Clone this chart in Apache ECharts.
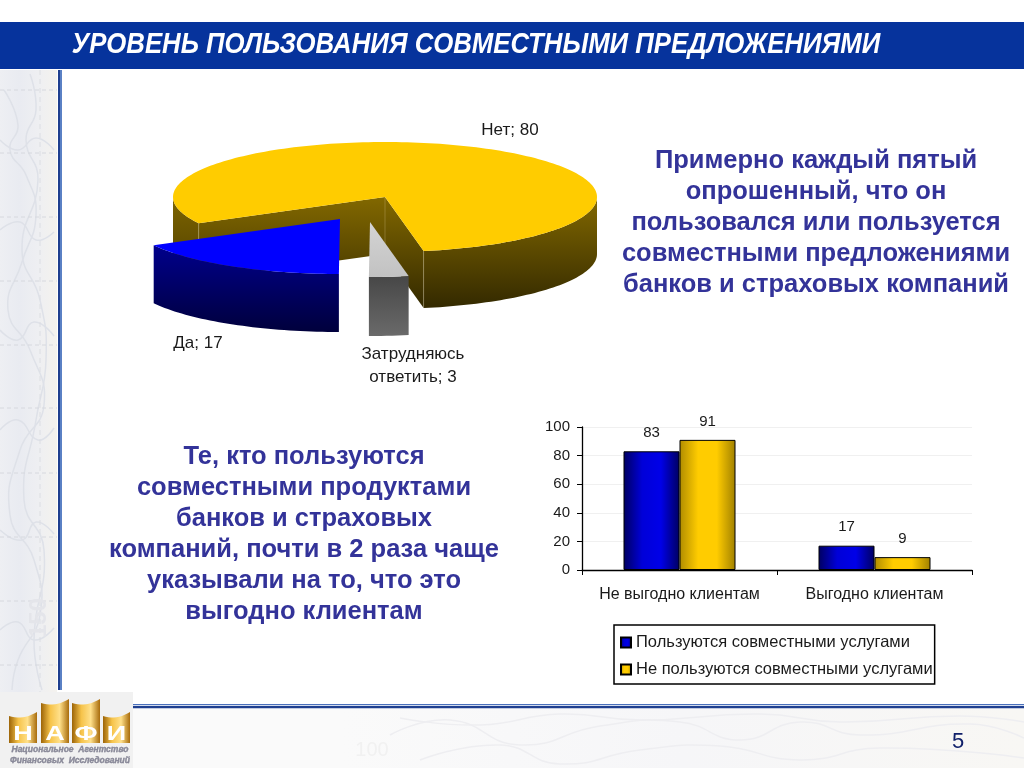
<!DOCTYPE html>
<html><head><meta charset="utf-8">
<style>html,body{margin:0;padding:0;background:#fff}#c{width:1024px;height:768px}</style>
<script src="https://cdn.jsdelivr.net/npm/echarts@6/dist/echarts.min.js"></script>
</head><body><div id="c"></div>
<script>
const pieCategories = ['Нет', 'Затрудняюсь\nответить', 'Да'];
const pieValues = [80, 3, 17];
const barCategories = ['Не выгодно клиентам', 'Выгодно клиентам'];
const seriesUsersName = 'Пользуются совместными услугами';
const seriesNonUsersName = 'Не пользуются совместными услугами';
const usersValues = [83, 17];
const nonUsersValues = [91, 9];
const titleText = 'УРОВЕНЬ ПОЛЬЗОВАНИЯ СОВМЕСТНЫМИ ПРЕДЛОЖЕНИЯМИ';
const noteRight = 'Примерно каждый пятый\nопрошенный, что он\nпользовался или пользуется\nсовместными предложениями\nбанков и страховых компаний';
const noteLeft = 'Те, кто пользуются\nсовместными продуктами\nбанков и страховых\nкомпаний, почти в 2 раза чаще\nуказывали на то, что это\nвыгодно клиентам';

const FONT = '"Liberation Sans", Arial, sans-serif';
const LG = (x0,y0,x1,y1,stops) => new echarts.graphic.LinearGradient(x0,y0,x1,y1,stops.map((c,i)=>({offset:i/(stops.length-1),color:c})));

/* 3-D pie layout */
const PIE = {cx:385, cy:197, rx:212, ry:55, startDeg:151.5};
const sliceLayout = [
  {dx:0,   dy:0,  h:57, top:'#ffcc00', side:['#826800','#332900']},
  {dx:-15, dy:25, h:59, top:LG(0,0,0,1,['#d4d4d4','#c2c2c2']), side:['#474747','#6a6a6a']},
  {dx:-45, dy:22, h:58, top:'#0000ff', side:['#00008c','#00003c']}
];
const labelLayout = [
  {x:510, y:130},
  {x:413, y:366},
  {x:198, y:343}
];
function pt(s,deg){const t=deg*Math.PI/180;return [PIE.cx+s.dx+PIE.rx*Math.cos(t), PIE.cy+s.dy+PIE.ry*Math.sin(t)];}
function renderSlice(params, api){
  const i = params.dataIndex;
  const total = pieValues.reduce((a,b)=>a+b,0);
  let start = PIE.startDeg;
  for(let k=0;k<i;k++) start += pieValues[k]/total*360;
  const end = start + pieValues[i]/total*360;
  const s = sliceLayout[i];
  const apex=[PIE.cx+s.dx, PIE.cy+s.dy];
  const children=[];
  const sideFill = LG(0,0,0,1,s.side);
  const wall=(a,b)=>{
    const up=[],dn=[];
    for(let d=a;d<b;d+=1.5){const p=pt(s,d);up.push(p);dn.unshift([p[0],p[1]+s.h]);}
    const last=pt(s,b);up.push(last);dn.unshift([last[0],last[1]+s.h]);
    return up.concat(dn);
  };
  const topPts=[apex];
  for(let d=start;d<end;d+=1.5) topPts.push(pt(s,d));
  topPts.push(pt(s,end));
  if(i===0){
    const pa=pt(s,start), pb=pt(s,end);
    const face=(p,q)=>[p,q,[q[0],q[1]+s.h],[p[0],p[1]+s.h]];
    children.push({type:'polygon',shape:{points:wall(start,180)},style:{fill:LG(0,0,0,1,['#7d6400','#4f3f00'])}});
    children.push({type:'polygon',shape:{points:face(pa,apex)},style:{fill:LG(0,0,0,1,['#826800','#4a3b00'])}});
    children.push({type:'polygon',shape:{points:face(apex,pb)},style:{fill:LG(0,0,0,1,['#826800','#332900'])}});
    children.push({type:'polygon',shape:{points:wall(360,end)},style:{fill:sideFill}});
    [pa,apex,pb].forEach(p=>children.push({type:'line',shape:{x1:p[0],y1:p[1],x2:p[0],y2:p[1]+s.h},style:{stroke:'rgba(255,240,190,0.22)',lineWidth:1}}));
  } else {
    children.push({type:'polygon',shape:{points:wall(start,end)},style:{fill:sideFill}});
  }
  children.push({type:'polygon',shape:{points:topPts},style:{fill:s.top}});
  const L=labelLayout[i];
  children.push({type:'text',x:L.x,y:L.y,
    style:{text:pieCategories[i]+'; '+api.value(0),x:0,y:0,textAlign:'center',textVerticalAlign:'middle',
      font:'17px '+FONT,lineHeight:23,fill:'#1a1a1a'}});
  return {type:'group',children};
}

const blueBar = LG(0,0,1,0,['#000060','#0000d8','#0000e8','#000060']);
const goldBar = LG(0,0,1,0,['#b08c00','#ffcc00','#ffcc00','#a08000']);

/* backdrop decoration */
const contours = [
 [[4,90],[18,125],[10,150],[26,175],[36,215],[22,262],[8,310],[30,350],[44,405],[20,450],[10,515],[34,560],[40,615],[18,660],[12,690]],
 [[30,74],[36,110],[26,140],[38,180],[22,250],[40,300],[46,360],[36,420],[24,500],[44,550],[34,640],[42,690]],
 [[0,140],[18,150],[36,138],[54,150]],[[0,230],[20,222],[36,240],[54,232]],[[0,330],[18,340],[34,322],[54,336]],
 [[0,430],[18,420],[38,440],[54,428]],[[0,530],[22,540],[36,522],[54,534]],[[0,630],[18,622],[34,640],[54,628]]
];
const dashRows = [90,153,217,281,345,408,473,537,601,665];
const bottomContours = [
 [[390,735],[450,720],[520,745],[600,726],[680,722],[740,740],[800,722],[860,735],[970,724],[1024,738]],
 [[420,760],[500,745],[560,764],[640,750],[720,746],[800,760],[880,748],[1024,758]],
 [[400,718],[480,725],[560,714],[640,720],[760,714],[840,722],[960,716],[1024,722]]
];
function logoPoly(x,w,top,bottom){
  const pts=[];
  for(let k=0;k<=10;k++){const u=k/10;pts.push([x+w*u, top+4-(4*u)+8*u*(1-u)*1.6]);}
  pts.push([x+w,bottom],[x,bottom]);
  return pts;
}
const logoBars = [
 {x:9,  w:28, top:712, letter:'Н'},
 {x:41, w:28, top:699, letter:'А'},
 {x:72, w:28, top:699, letter:'Ф'},
 {x:103,w:27, top:712, letter:'И'}
];
const g = [];
const T = (text,x,y,o)=>({type:'text',x,y,z:4,silent:true,style:Object.assign({text,textAlign:'center',textVerticalAlign:'middle',fill:'#333399'},o)});
g.push({type:'rect',shape:{x:0,y:70,width:57,height:622},style:{fill:LG(0,0,1,0,['#eeeff3','#e9ebf1','#eeeff2','#f4f2ee'])},z:0});
contours.forEach(p=>g.push({type:'polyline',shape:{points:p,smooth:0.5},style:{fill:null,stroke:'#dee1e8',lineWidth:1.5},z:1}));
dashRows.forEach(y=>g.push({type:'line',shape:{x1:0,y1:y,x2:57,y2:y},style:{stroke:'#d6d8de',lineWidth:1,lineDash:[4,3]},z:1}));
g.push({type:'line',shape:{x1:40,y1:70,x2:40,y2:692},style:{stroke:'#dcdee3',lineWidth:1,lineDash:[5,4]},z:1});
g.push({type:'rect',shape:{x:0,y:708,width:1024,height:60},style:{fill:LG(0,0,1,0,['#fafafa','#fafafa','#f6f6f8','#f8f7f4'])},z:0});
bottomContours.forEach(p=>g.push({type:'polyline',shape:{points:p,smooth:0.5},style:{fill:null,stroke:'#eeeef1',lineWidth:1.5},z:1}));
g.push({type:'rect',shape:{x:0,y:692,width:133,height:76},style:{fill:'#f1f1f1'},z:1});
g.push({type:'rect',shape:{x:58,y:70,width:2,height:620},style:{fill:'#1f3f8f'},z:1});
g.push({type:'rect',shape:{x:60,y:70,width:2,height:620},style:{fill:'#5a80c4'},z:1});
g.push({type:'rect',shape:{x:133,y:704,width:891,height:1.2},style:{fill:'#4a70bc'},z:1});
g.push({type:'rect',shape:{x:133,y:706,width:891,height:2.2},style:{fill:'#1f3f8f'},z:1});
g.push({type:'rect',shape:{x:0,y:22,width:1024,height:47},style:{fill:'#06339c'},z:1});
g.push(Object.assign(T(titleText,476,45,{font:'italic bold 30px '+FONT,fill:'#ffffff'}),{scaleX:0.858}));
g.push(T(noteRight,816,223,{font:'bold 25.5px '+FONT,lineHeight:31}));
g.push(T(noteLeft,304,534,{font:'bold 25.5px '+FONT,lineHeight:31}));
g.push(T('5',958,742,{font:'22px '+FONT,fill:'#10206a'}));
g.push(Object.assign(T('150',39,618,{font:'bold 24px '+FONT,fill:'#e4e5ea'}),{rotation:Math.PI/2}));
g.push(T('100',372,750,{font:'20px '+FONT,fill:'#f1f1f1'}));
logoBars.forEach(b=>{
  g.push({type:'polygon',shape:{points:logoPoly(b.x,b.w,b.top,743)},style:{fill:LG(0,0,1,0,['#9c6408','#f6c34a','#ffe08a','#a86c0c'])},z:3});
  g.push(Object.assign(T(b.letter,b.x+b.w/2,734,{font:'bold 20px '+FONT,fill:'#ffffff'}),{scaleX:1.35}));
});
g.push(T('Национальное  Агентство',70,750,{font:'italic bold 8.5px '+FONT,fill:'#8a8a9a',stroke:'#666677',lineWidth:0.3}));
g.push(T('Финансовых  Исследований',70,761,{font:'italic bold 8.5px '+FONT,fill:'#8a8a9a',stroke:'#666677',lineWidth:0.3}));

const chart = echarts.init(document.getElementById('c'),null,{renderer:'canvas'});
chart.setOption({
  animation:false,
  textStyle:{fontFamily:FONT},
  graphic:{elements:g},
  legend:{
    left:614, top:625, orient:'vertical', itemGap:10, itemWidth:10, itemHeight:10,
    padding:[9,2,6,6], borderColor:'#000', borderWidth:1.5, backgroundColor:'#fff',
    data:[{name:seriesUsersName,icon:'rect'},{name:seriesNonUsersName,icon:'rect'}],
    textStyle:{fontSize:16.5,color:'#1a1a1a',fontFamily:FONT}
  },
  grid:{left:582,top:427,width:390,height:143},
  xAxis:{type:'category',data:barCategories,
    axisLine:{lineStyle:{color:'#000',width:1.3}},
    axisTick:{show:true,length:5,lineStyle:{color:'#000'}},
    axisLabel:{color:'#1a1a1a',fontSize:16,margin:17,fontFamily:FONT,interval:0,hideOverlap:false}},
  yAxis:{type:'value',min:0,max:100,interval:20,
    axisLine:{show:true,lineStyle:{color:'#000',width:1.3}},
    axisTick:{show:true,length:5,lineStyle:{color:'#000'}},
    axisLabel:{color:'#1a1a1a',fontSize:15,margin:12,padding:[5,0,0,0],fontFamily:FONT},
    splitLine:{show:true,lineStyle:{color:'#f0f0f0',width:1}}},
  series:[
    {name:seriesUsersName,type:'bar',data:usersValues,barWidth:56,barGap:0,
     itemStyle:{color:blueBar,borderColor:'#000',borderWidth:1},
     label:{show:true,position:'top',distance:11,color:'#1a1a1a',fontSize:15,fontFamily:FONT}},
    {name:seriesNonUsersName,type:'bar',data:nonUsersValues,barWidth:56,barGap:0,
     itemStyle:{color:goldBar,borderColor:'#000',borderWidth:1},
     label:{show:true,position:'top',distance:11,color:'#1a1a1a',fontSize:15,fontFamily:FONT}},
    {type:'custom',coordinateSystem:'none',renderItem:renderSlice,silent:true,z:5,
     data:pieValues.map((v,i)=>({name:pieCategories[i],value:[v,i]}))}
  ]
});
</script></body></html>
